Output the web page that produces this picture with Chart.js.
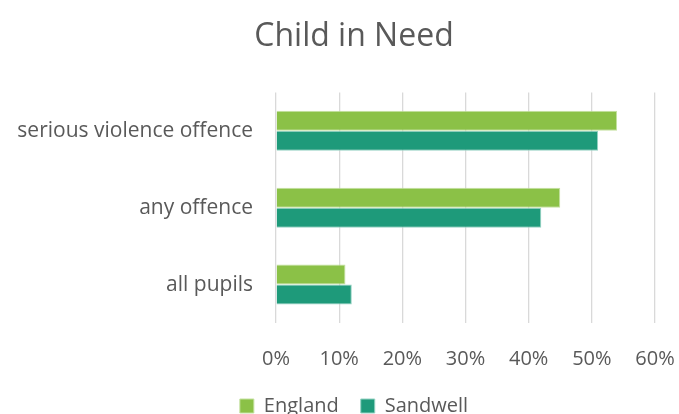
<!DOCTYPE html>
<html>
<head>
<meta charset="utf-8">
<script src="https://cdn.jsdelivr.net/npm/chart.js@4"></script>
<style>
  html, body { margin: 0; padding: 0; background: #fff; overflow: hidden; }
  #wrap { width: 679px; height: 414px; overflow: hidden; }
</style>
</head>
<body>
<div id="wrap"><canvas id="cinChart" width="709" height="426"></canvas></div>
<script>
// Offending rates for Child in Need pupils
const categories = ['serious violence offence', 'any offence', 'all pupils'];
const england = [54, 45, 11];
const sandwell = [51, 42, 12];
const xTicks = [0, 10, 20, 30, 40, 50, 60];

const textColor = '#595959';
const fontFamily = '"Open Sans", Lato, sans-serif';

// let the category labels run into the left padding without being clipped
const widenLabelArea = {
    id: 'widenLabelArea',
    afterLayout(chart) {
        chart.scales.y.left = 0;
    }
};

function renderChart() {
    const ctx = document.getElementById('cinChart').getContext('2d');

    const barData = {
        labels: categories,
        datasets: [{
            label: 'England',
            data: england,
            backgroundColor: 'rgb(139, 193, 71)',
            borderColor: 'rgb(196, 225, 160)',
            borderWidth: 1,
        }, {
            label: 'Sandwell',
            data: sandwell,
            backgroundColor: 'rgb(30, 154, 122)',
            borderColor: 'rgb(150, 210, 195)',
            borderWidth: 1,
        }]
    };

    const options = {
        responsive: false,
        animation: false,
        indexAxis: 'y',
        // left padding keeps title and legend centred
        layout: {
            padding: { left: 53, right: 54, top: 0, bottom: 0 }
        },
        datasets: {
            bar: {
                categoryPercentage: 0.52,
                barPercentage: 1.0,
            }
        },
        scales: {
            x: {
                min: 0,
                max: 60,
                afterBuildTicks: (axis) => {
                    axis.ticks = xTicks.map(v => ({ value: v }));
                },
                afterFit: (axis) => { axis.height -= 21; },
                grid: {
                    color: '#d9d9d9',
                    lineWidth: 1.3,
                    drawTicks: false,
                },
                border: { display: false },
                ticks: {
                    color: textColor,
                    font: { family: fontFamily, size: 20 },
                    padding: 24,
                    callback: (v) => v + '%',
                },
            },
            y: {
                grid: { display: false, drawTicks: false },
                border: { display: false },
                afterFit: (axis) => { axis.width = 223; },
                ticks: {
                    color: textColor,
                    font: { family: fontFamily, size: 21 },
                    padding: 23,
                },
            },
        },
        plugins: {
            title: {
                display: true,
                text: 'Child in Need',
                color: textColor,
                font: { family: fontFamily, size: 32, weight: 'normal' },
                padding: { top: 18, bottom: 36 },
            },
            legend: {
                display: true,
                position: 'bottom',
                labels: {
                    color: textColor,
                    font: { family: fontFamily, size: 20 },
                    boxWidth: 14,
                    boxHeight: 14,
                    padding: 22,
                },
            },
            tooltip: { enabled: false },
        },
    };

    new Chart(ctx, {
        type: 'bar',
        data: barData,
        options: options,
        plugins: [widenLabelArea],
    });
}

renderChart();
</script>
</body>
</html>
